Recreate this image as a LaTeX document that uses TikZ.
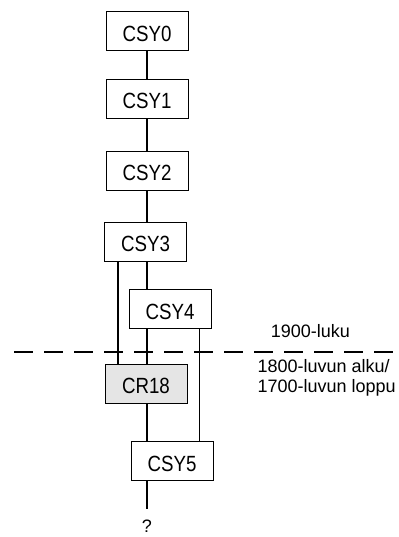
\documentclass[tikz,border=0pt]{standalone}
\usepackage{fontspec}
\setmainfont{Liberation Sans}
\newfontfamily\boxfont[FakeStretch=0.85]{Liberation Sans}
\usepackage{tikz}
\usetikzlibrary{positioning}
\definecolor{crgray}{gray}{0.9}

\tikzset{
    era/.style={draw, rectangle, line width=1bp, minimum width=82bp, minimum height=39bp,
        inner sep=0pt, text height=20bp, text depth=0pt,
        font=\boxfont\fontsize{22bp}{26bp}\selectfont},
    link/.style={line width=1.2bp},
    side/.style={inner sep=0pt, align=left, font=\fontsize{18bp}{20bp}\selectfont}
}

\begin{document}
\begin{tikzpicture}[x=1bp, y=-1bp]
    \useasboundingbox (0,0) rectangle (398,537);
    % Boxes
    \node[era] (CSY0) at (147,31.5) {CSY0};
    \node[era] (CSY1) at (147,99) {CSY1};
    \node[era] (CSY2) at (147,171) {CSY2};
    \node[era] (CSY3) at (145.5,241.5) {CSY3};
    \node[era] (CSY4) at (170,309) {CSY4};
    \node[era, fill=crgray] (CR18) at (146,383.5) {CR18};
    \node[era] (CSY5) at (172,461) {CSY5};
    % Open end
    \coordinate (tail) at (147,509);
    \node[inner sep=0pt, font=\fontsize{18bp}{20bp}\selectfont, below=11bp of tail] (q) {?};
    % Links
    \draw[link] (CSY0) -- (CSY1);
    \draw[link] (CSY1) -- (CSY2);
    \draw[link] (CSY2) -- (CSY3.north -| CSY2);
    \draw[link] (CSY3.south -| CSY0) -- (CSY4.north -| CSY0);
    \draw[link] ([xshift=14bp]CSY3.south west) -- ([xshift=14bp]CSY3.south west |- CR18.north);
    \draw[link] (CSY4.south -| CSY0) -- (CR18.north -| CSY0);
    \draw[link] ([xshift=-12bp]CSY4.south east) -- ([xshift=-12bp]CSY4.south east |- CSY5.north);
    \draw[link] (CR18.south -| CSY0) -- (CSY5.north -| CSY0);
    \draw[link] (CSY5.south -| CSY0) -- (tail);
    % Century line
    \coordinate (cutL) at (14,352);
    \coordinate (cutR) at (398,352);
    \draw[link, dash pattern=on 19bp off 11bp] (cutL) -- (cutR);
    \node[side, anchor=base west] (late) at (270.7,337.7) {1900-luku};
    \node[side, anchor=base west] (early) at (257.3,392) {1800-luvun alku/\\1700-luvun loppu};
\end{tikzpicture}
\end{document}
